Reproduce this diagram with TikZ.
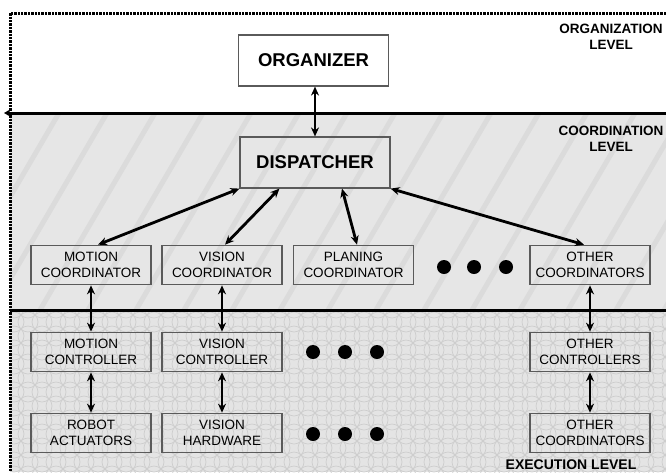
\documentclass[tikz,border=0pt]{standalone}
\usepackage{fontspec}
\setmainfont{Liberation Sans}
\usetikzlibrary{arrows.meta}
\definecolor{coordbg}{HTML}{E6E6E6}
\definecolor{execbg}{HTML}{E4E4E4}
\definecolor{stripecol}{HTML}{DBDBDB}
\definecolor{scalecol}{HTML}{CDCDCD}
\definecolor{boxline}{HTML}{5A5A5A}
\begin{document}
\begin{tikzpicture}[x=1pt,y=-1pt,
 box/.style={draw=boxline, line width=1.2pt, minimum width=120pt, minimum height=39.5pt, align=center, font=\fontsize{13.5}{16}\selectfont, inner sep=0pt},
 bigbox/.style={draw=boxline, line width=1.2pt, minimum width=150pt, minimum height=51pt, inner sep=0pt, font=\bfseries\fontsize{18.5}{22}\selectfont},
 conn/.style={line width=2.8pt, {Stealth[length=9pt,width=8pt]}-{Stealth[length=9pt,width=8pt]}},
 lvl/.style={font=\bfseries\fontsize{13.5}{16}\selectfont, align=center, inner sep=0pt},
 bigdot/.style={circle, fill=black, minimum size=14pt, inner sep=0pt},
 stripe/.style={stripecol, line width=5pt},
 scaleline/.style={scalecol, line width=0.7pt}]
\useasboundingbox (0,0) rectangle (666,472);
\fill[white] (0,0) rectangle (666,472);
\fill[coordbg] (10,113) rectangle (666,310);
\fill[execbg] (10,310) rectangle (666,472);
\begin{scope}
 \clip (10,113) rectangle (666,310);
 \foreach \i in {-200,-152,...,700} \draw[stripe] (\i,310) -- (\i+115,113);
\end{scope}
\begin{scope}
 \clip (10,310) rectangle (666,472);
 \foreach \i in {0,14,...,672} \foreach \j in {308,322,...,482} \draw[scaleline] (\i,\j) circle (10);
\end{scope}
% dotted frame
\draw[line width=3pt, dash pattern=on 2.4pt off 1pt] (666,13) -- (10,13) -- (10,472);
% level lines
\draw[line width=3pt, -{Stealth[length=7pt,width=8pt]}] (666,113) -- (4,113);
\draw[line width=3pt] (10,310) -- (666,310);
% nodes
\node[bigbox, fill=white] (org) at (313.5,60.5) {ORGANIZER};
\node[bigbox] (disp) at (315,162.5) {DISPATCHER};
\node[box] (mco) at (91,265) {MOTION\\COORDINATOR};
\node[box] (vco) at (222,265) {VISION\\COORDINATOR};
\node[box] (pco) at (353.5,265) {PLANING\\COORDINATOR};
\node[box] (oco) at (590,265) {OTHER\\COORDINATORS};
\node[box] (mct) at (91,352) {MOTION\\CONTROLLER};
\node[box] (vct) at (222,352) {VISION\\CONTROLLER};
\node[box] (oct) at (590,352) {OTHER\\CONTROLLERS};
\node[box] (rob) at (91,433) {ROBOT\\ACTUATORS};
\node[box] (vhw) at (222,433) {VISION\\HARDWARE};
\node[box] (oth) at (590,433) {OTHER\\COORDINATORS};
% dots
\node[bigdot] (d1) at (444,267) {};
\node[bigdot] (d2) at (474,267) {};
\node[bigdot] (d3) at (506,267) {};
\node[bigdot] (d4) at (313,352) {};
\node[bigdot] (d5) at (345,352) {};
\node[bigdot] (d6) at (377,352) {};
\node[bigdot] (d7) at (313,434) {};
\node[bigdot] (d8) at (345,434) {};
\node[bigdot] (d9) at (377,434) {};
% labels
\node[lvl] (ol) at (611,37) {ORGANIZATION\\LEVEL};
\node[lvl] (cl) at (611,139) {COORDINATION\\LEVEL};
\node[lvl, font=\bfseries\fontsize{14}{16}\selectfont] (el) at (571,465) {EXECUTION LEVEL};
% connectors
\draw[conn] (disp.north |- org.south) -- (disp.north);
\draw[conn] (disp.south west) -- ([xshift=7pt]mco.north);
\draw[conn] ([xshift=40pt]disp.south west) -- ([xshift=3pt]vco.north);
\draw[conn] ([xshift=27pt]disp.south) -- ([xshift=3.5pt]pco.north);
\draw[conn] (disp.south east) -- ([xshift=-6pt]oco.north);
\draw[conn] (mco.south) -- (mct.north);
\draw[conn] (vco.south) -- (vct.north);
\draw[conn] (oco.south) -- (oct.north);
\draw[conn] (mct.south) -- (rob.north);
\draw[conn] (vct.south) -- (vhw.north);
\draw[conn] (oct.south) -- (oth.north);
\end{tikzpicture}
\end{document}
